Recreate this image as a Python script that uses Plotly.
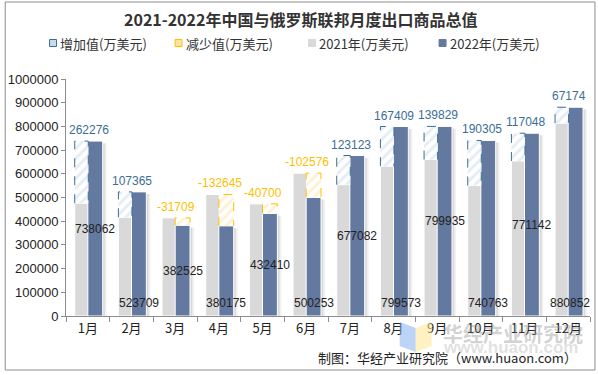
import plotly.graph_objects as go

months = ["1月", "2月", "3月", "4月", "5月", "6月", "7月", "8月", "9月", "10月", "11月", "12月"]
exports_2021 = [475786, 416344, 414234, 512820, 473110, 602829, 553959, 632164, 660106, 550458, 654094, 813678]
exports_2022 = [738062, 523709, 382525, 380175, 432410, 500253, 677082, 799573, 799935, 740763, 771142, 880852]
change = [262276, 107365, -31709, -132645, -40700, -102576, 123123, 167409, 139829, 190305, 117048, 67174]
y_ticks = [0, 100000, 200000, 300000, 400000, 500000, 600000, 700000, 800000, 900000, 1000000]

# layout geometry (pixels)
W, H = 598, 375
L, R, T, B = 64, 590, 79, 316
PW, PH = R - L, B - T


def px2x(px):
    return (px - L) / PW


def py2y(py):
    return (B - py) / PH


GRAY = "#d9d9d9"
DARK = "#6479a0"
UP_LINE = "#3b6e94"
UP_FILL = "#c9dbe8"
DN_LINE = "#ffc000"
DN_FILL = "#fbe3a3"
FONT = "Liberation Sans, Arial, Noto Sans CJK SC"
CJK = "Noto Sans CJK SC"

g_off, g_w = -0.30, 0.31
d_off, d_w = 0.0, 0.34

xs = list(range(len(months)))
n = len(months)
fig = go.Figure()

# soft shadows
for dx, a in [(0.09, 0.06), (0.05, 0.09)]:
    for vals, off, w in [(exports_2021, g_off, g_w), (exports_2022, d_off, d_w)]:
        fig.add_trace(go.Bar(
            x=xs, y=[v - 9000 for v in vals], offset=off + dx, width=w,
            marker=dict(color=f"rgba(0,0,0,{a})", line=dict(width=0)),
            showlegend=False, hoverinfo="skip"))

fig.add_trace(go.Bar(
    x=xs, y=exports_2021, offset=g_off, width=g_w, name="2021年(万美元)",
    marker=dict(color=GRAY, line=dict(color="white", width=1)), showlegend=False))
fig.add_trace(go.Bar(
    x=xs, y=exports_2022, offset=d_off, width=d_w, name="2022年(万美元)",
    marker=dict(color=DARK, line=dict(color="white", width=1)), showlegend=False))

up_x = [i for i, c in zip(xs, change) if c > 0]
up_base = [a for a, c in zip(exports_2021, change) if c > 0]
up_h = [c for c in change if c > 0]
dn_x = [i for i, c in zip(xs, change) if c < 0]
dn_base = [b for b, c in zip(exports_2022, change) if c < 0]
dn_h = [-c for c in change if c < 0]

fig.add_trace(go.Bar(
    x=up_x, y=up_h, base=up_base, offset=g_off, width=g_w, name="增加值(万美元)",
    marker=dict(color="white", line=dict(width=0),
                pattern=dict(shape="/", fgcolor=UP_FILL, bgcolor="white", size=7, solidity=0.4)),
    showlegend=False))
fig.add_trace(go.Bar(
    x=dn_x, y=dn_h, base=dn_base, offset=d_off, width=d_w, name="减少值(万美元)",
    marker=dict(color="white", line=dict(width=0),
                pattern=dict(shape="/", fgcolor=DN_FILL, bgcolor="white", size=7, solidity=0.4)),
    showlegend=False))

shapes = []
for i, b, h in zip(up_x, up_base, up_h):
    x0, x1 = i + g_off, i + g_off + g_w
    shapes.append(dict(type="path", xref="x", yref="y",
                       path=f"M {x0},{b} L {x0},{b + h} L {x1},{b + h} L {x1},{b}",
                       line=dict(color=UP_LINE, width=1, dash="dash")))
for i, b, h in zip(dn_x, dn_base, dn_h):
    x0, x1 = i + d_off, i + d_off + d_w
    shapes.append(dict(type="path", xref="x", yref="y",
                       path=f"M {x0},{b} L {x0},{b + h} L {x1},{b + h} L {x1},{b}",
                       line=dict(color=DN_LINE, width=1, dash="dash")))

annotations = []
# change labels
for i, a, b, c in zip(xs, exports_2021, exports_2022, change):
    annotations.append(dict(
        x=i + 0.02, y=max(a, b), xref="x", yref="y", text=str(c), showarrow=False,
        yanchor="bottom", yshift=2,
        font=dict(family=FONT, size=12, color=UP_LINE if c > 0 else DN_LINE)))
# 2022 value labels (kept inside the plot area, like the original)
for i, v in zip(xs, exports_2022):
    lx = min(i + 0.17, n - 0.5 - 0.46)
    if i % 2 == 0:
        annotations.append(dict(x=lx, y=v / 2, xref="x", yref="y", text=str(v),
                                showarrow=False, yanchor="middle",
                                font=dict(family=FONT, size=12, color="#222")))
    else:
        annotations.append(dict(x=lx, y=0, xref="x", yref="y", text=str(v),
                                showarrow=False, yanchor="middle", yshift=13,
                                font=dict(family=FONT, size=12, color="#222")))

# title
annotations.append(dict(x=px2x(299), y=py2y(19), xref="paper", yref="paper",
                        text="<b>2021-2022年中国与俄罗斯联邦月度出口商品总值</b>",
                        showarrow=False, xanchor="center", yanchor="middle",
                        font=dict(family=CJK, size=16, color="#333")))

# manual legend
legend_items = [
    ("增加值(万美元)", 51, UP_FILL, UP_LINE),
    ("减少值(万美元)", 177, DN_FILL, DN_LINE),
    ("2021年(万美元)", 311, GRAY, GRAY),
    ("2022年(万美元)", 442, DARK, DARK),
]
LY = 43
for text, mx, fill, line in legend_items:
    shapes.append(dict(type="rect", xref="paper", yref="paper",
                       x0=px2x(mx - 3.5), x1=px2x(mx + 3.5), y0=py2y(LY + 3.5), y1=py2y(LY - 3.5),
                       fillcolor=fill, line=dict(color=line, width=1)))
    annotations.append(dict(x=px2x(mx + 5), y=py2y(LY), xref="paper", yref="paper",
                            text=text, showarrow=False, xanchor="left", yanchor="middle",
                            font=dict(family=CJK, size=13, color="#333")))

# watermark
shapes.append(dict(type="path", xref="paper", yref="paper",
                   path=f"M {px2x(399)},{py2y(322)} L {px2x(415)},{py2y(328)} L {px2x(415)},{py2y(352)} L {px2x(399)},{py2y(346)} Z",
                   fillcolor="rgba(120,170,240,0.5)", line=dict(width=0)))
shapes.append(dict(type="path", xref="paper", yref="paper",
                   path=f"M {px2x(415)},{py2y(328)} L {px2x(431)},{py2y(322)} L {px2x(431)},{py2y(346)} L {px2x(415)},{py2y(352)} Z",
                   fillcolor="rgba(255,230,140,0.55)", line=dict(width=0)))
annotations.append(dict(x=px2x(440), y=py2y(333), xref="paper", yref="paper",
                        text="<b>华经产业研究院</b>", showarrow=False, xanchor="left", yanchor="middle",
                        font=dict(family=CJK, size=20, color="rgba(140,140,140,0.4)")))
annotations.append(dict(x=px2x(440), y=py2y(347), xref="paper", yref="paper",
                        text="<b>www.huaon.com</b>", showarrow=False, xanchor="left", yanchor="middle",
                        font=dict(family=FONT, size=17, color="rgba(150,150,150,0.3)")))

# source
annotations.append(dict(x=px2x(579), y=py2y(357), xref="paper", yref="paper",
                        text="制图：华经产业研究院（www.huaon.com）", showarrow=False,
                        xanchor="right", yanchor="middle",
                        font=dict(family=CJK, size=13, color="#222")))

# outer frame
shapes.append(dict(type="rect", xref="paper", yref="paper",
                   x0=px2x(3), x1=px2x(595), y0=py2y(370), y1=py2y(2),
                   line=dict(color="#8c8c8c", width=1), fillcolor="rgba(0,0,0,0)", layer="below"))

fig.update_layout(
    width=W, height=H,
    margin=dict(l=L, r=W - R, t=T, b=H - B),
    paper_bgcolor="white", plot_bgcolor="white",
    barmode="overlay", showlegend=False,
    font=dict(family=FONT, size=12, color="#333"),
    shapes=shapes, annotations=annotations,
    xaxis=dict(range=[-0.5, n - 0.5], tickmode="array", tickvals=xs, ticktext=months,
               ticks="", showgrid=False, zeroline=False,
               showline=True, linecolor="#8c8c8c", linewidth=1,
               tickfont=dict(family=CJK, size=13, color="#222"),
               minor=dict(tickmode="array", tickvals=[i - 0.5 for i in xs] + [n - 0.5],
                          ticks="outside", ticklen=5, tickcolor="#8c8c8c", showgrid=False)),
    yaxis=dict(range=[0, 1000000], tickmode="array", tickvals=y_ticks,
               ticktext=[str(v) for v in y_ticks],
               ticks="outside", ticklen=4, tickcolor="#8c8c8c", showgrid=False, zeroline=False,
               showline=True, linecolor="#8c8c8c", linewidth=1,
               tickfont=dict(family=FONT, size=13, color="#222")),
)

fig.write_html("out.html",
               config={"displayModeBar": False},
               post_script="document.body.style.margin='0';document.body.style.overflow='hidden';")
